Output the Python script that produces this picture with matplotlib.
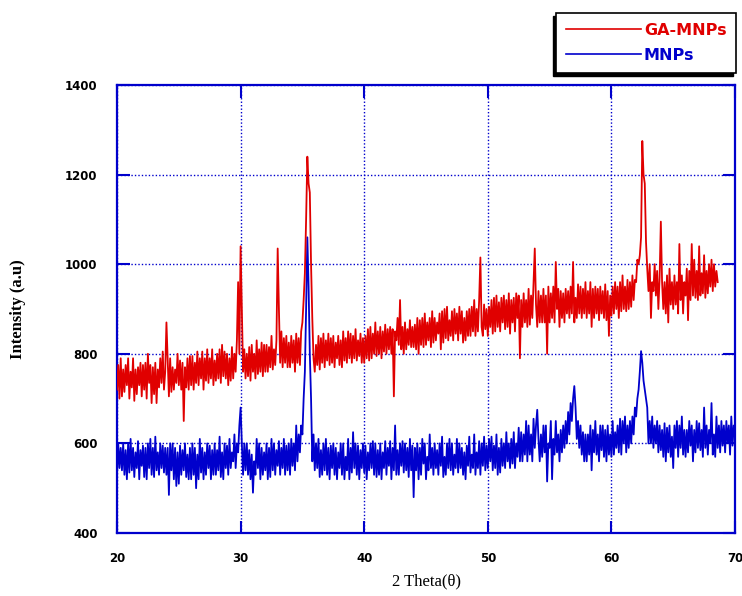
import numpy as np
import matplotlib
matplotlib.use("Agg")
import matplotlib.pyplot as plt
from matplotlib.patches import Rectangle

# scan grid (2 theta, deg) and intensities
step = 0.1
ga_start = 20.0
mnp_start = 20.0

ga_mnps = [
    720, 775, 700, 790, 705, 765, 715, 775, 730, 790, 700, 760, 725, 790, 695, 765, 710, 770, 730, 780,
    705, 775, 720, 780, 700, 800, 735, 775, 690, 770, 710, 780, 690, 765, 725, 790, 735, 805, 720, 760,
    870, 790, 705, 790, 715, 770, 720, 765, 735, 800, 730, 785, 720, 780, 650, 770, 725, 790, 720, 795,
    730, 795, 720, 780, 735, 805, 730, 790, 745, 805, 720, 790, 740, 810, 735, 790, 745, 810, 730, 785,
    740, 800, 745, 810, 735, 820, 750, 805, 745, 800, 730, 790, 740, 815, 745, 800, 760, 830, 960, 800,
    1040, 900, 760, 810, 745, 800, 750, 815, 740, 820, 760, 800, 745, 830, 755, 810, 760, 825, 750, 820,
    760, 820, 760, 815, 770, 840, 765, 810, 775, 830, 1035, 900, 780, 850, 770, 835, 780, 840, 770, 825,
    770, 840, 780, 830, 760, 845, 780, 835, 775, 850, 870, 920, 980, 1100, 1240, 1180, 1160, 1000, 880, 790,
    760, 820, 775, 840, 765, 835, 780, 845, 770, 830, 785, 845, 775, 835, 780, 840, 770, 825, 790, 840,
    775, 830, 770, 850, 785, 835, 780, 850, 790, 845, 780, 840, 790, 855, 785, 830, 795, 845, 780, 835,
    780, 840, 790, 855, 785, 860, 790, 845, 800, 870, 795, 850, 800, 860, 790, 850, 805, 865, 800, 855,
    810, 860, 800, 855, 705, 850, 830, 880, 820, 920, 810, 860, 800, 870, 810, 855, 820, 875, 815, 860,
    815, 865, 810, 880, 800, 875, 820, 880, 815, 890, 820, 870, 830, 880, 815, 895, 825, 880, 830, 870,
    845, 890, 810, 895, 825, 900, 835, 905, 830, 875, 840, 895, 830, 900, 845, 890, 830, 905, 845, 895,
    825, 880, 830, 895, 840, 900, 840, 905, 850, 920, 840, 900, 850, 920, 1015, 860, 840, 910, 855, 900,
    840, 905, 860, 920, 845, 925, 850, 930, 860, 915, 850, 925, 870, 930, 855, 920, 860, 935, 845, 920,
    870, 925, 850, 935, 880, 930, 790, 920, 860, 935, 870, 920, 860, 945, 865, 930, 880, 960, 1035, 910,
    860, 940, 870, 930, 870, 945, 870, 930, 800, 950, 870, 935, 880, 950, 870, 1005, 900, 945, 860, 940,
    880, 935, 870, 945, 890, 940, 880, 950, 890, 1005, 870, 925, 880, 955, 890, 950, 880, 945, 890, 960,
    880, 940, 890, 960, 860, 945, 880, 950, 890, 945, 875, 950, 890, 940, 880, 955, 875, 940, 840, 930,
    885, 950, 890, 960, 900, 950, 880, 960, 895, 975, 900, 950, 895, 965, 900, 960, 905, 975, 920, 965,
    960, 1010, 1000, 1020, 1060, 1275, 1200, 1180, 1050, 990, 940, 1000, 880, 960, 940, 1000, 930, 985, 900, 970,
    1095, 960, 900, 960, 890, 975, 870, 990, 910, 960, 900, 975, 910, 960, 890, 1045, 920, 975, 890, 960,
    930, 990, 875, 985, 920, 1045, 930, 1010, 925, 985, 920, 1040, 930, 980, 935, 1020, 925, 985, 935, 1000,
    950, 1010, 940, 1000, 950, 985, 960,
]

mnps = [
    530, 600, 545, 590, 540, 600, 530, 585, 520, 600, 535, 610, 540, 590, 525, 580, 545, 605, 520, 585,
    550, 595, 525, 590, 520, 600, 545, 610, 530, 590, 525, 615, 540, 580, 530, 600, 545, 595, 535, 590,
    530, 590, 485, 600, 540, 600, 520, 590, 505, 580, 510, 595, 530, 585, 540, 600, 525, 575, 520, 590,
    520, 600, 530, 590, 500, 575, 520, 610, 535, 590, 520, 580, 530, 600, 545, 595, 520, 585, 530, 600,
    530, 585, 540, 615, 525, 580, 520, 600, 545, 595, 530, 610, 545, 580, 560, 620, 545, 600, 580, 640,
    680, 600, 530, 600, 540, 600, 530, 585, 520, 575, 490, 560, 530, 610, 545, 600, 520, 590, 530, 580,
    540, 600, 520, 590, 525, 610, 540, 600, 530, 585, 550, 605, 530, 590, 545, 610, 530, 595, 540, 600,
    530, 610, 550, 600, 540, 640, 560, 620, 580, 640, 620, 700, 760, 900, 1060, 950, 800, 700, 560, 620,
    540, 600, 545, 610, 525, 585, 530, 600, 540, 610, 530, 590, 520, 595, 545, 600, 530, 590, 520, 580,
    545, 600, 530, 600, 520, 570, 540, 610, 520, 590, 535, 625, 545, 600, 530, 595, 520, 585, 545, 600,
    535, 595, 520, 580, 540, 600, 545, 605, 530, 600, 525, 585, 530, 600, 520, 580, 545, 605, 530, 590,
    550, 605, 520, 590, 540, 640, 530, 585, 530, 600, 550, 605, 535, 600, 540, 590, 525, 610, 540, 595,
    480, 590, 540, 600, 520, 590, 530, 610, 555, 600, 520, 570, 540, 620, 545, 590, 530, 600, 545, 585,
    530, 600, 550, 615, 525, 570, 530, 600, 545, 610, 540, 600, 530, 575, 545, 610, 535, 600, 545, 590,
    530, 580, 520, 595, 550, 615, 535, 575, 545, 620, 530, 580, 545, 605, 530, 600, 550, 615, 540, 595,
    545, 610, 560, 615, 540, 595, 545, 620, 530, 590, 535, 610, 550, 600, 545, 625, 560, 600, 545, 610,
    555, 625, 545, 600, 570, 635, 560, 625, 560, 620, 575, 650, 560, 640, 575, 620, 560, 655, 590, 640,
    675, 610, 560, 620, 570, 640, 580, 640, 515, 600, 590, 650, 520, 610, 575, 650, 580, 620, 560, 630,
    580, 640, 590, 650, 600, 670, 620, 690, 650, 700, 728, 680, 610, 650, 590, 640, 575, 625, 560, 620,
    560, 620, 575, 640, 540, 630, 580, 650, 575, 620, 560, 640, 585, 640, 570, 630, 560, 640, 575, 620,
    570, 650, 575, 625, 590, 640, 580, 655, 575, 650, 600, 660, 580, 640, 590, 650, 600, 660, 620, 680,
    660, 700, 720, 760, 806, 780, 740, 720, 700, 680, 600, 650, 600, 660, 590, 640, 600, 650, 580, 640,
    585, 630, 570, 645, 560, 635, 580, 640, 570, 615, 545, 640, 590, 650, 570, 640, 590, 660, 575, 630,
    570, 630, 580, 650, 595, 640, 560, 630, 580, 650, 590, 645, 585, 630, 570, 680, 590, 640, 575, 630,
    600, 690, 575, 620, 570, 660, 590, 640, 580, 650, 595, 640, 580, 650, 600, 640, 575, 660, 595, 640,
    620,
]

x_ticks = [20, 30, 40, 50, 60, 70]
y_ticks = [400, 600, 800, 1000, 1200, 1400]

RED = "#e00000"
BLUE = "#0000cc"

ga_x = ga_start + step * np.arange(len(ga_mnps))
mnp_x = mnp_start + step * np.arange(len(mnps))

fig = plt.figure(figsize=(7.42, 5.96), dpi=100)
ax = fig.add_axes([117 / 742, 63 / 596, 618 / 742, 448 / 596])

ax.plot(ga_x, ga_mnps, color=RED, lw=1.3, label="GA-MNPs", zorder=3)
ax.plot(mnp_x, mnps, color=BLUE, lw=1.3, label="MNPs", zorder=2)

ax.set_xlim(20, 70)
ax.set_ylim(400, 1400)
ax.set_xticks(x_ticks)
ax.set_yticks(y_ticks)
ax.grid(True, color=BLUE, ls=(0, (1, 1.5)), lw=1.0, zorder=1)
ax.set_axisbelow(True)
for sp in ax.spines.values():
    sp.set_color(BLUE)
    sp.set_linewidth(1.6)
ax.tick_params(direction="in", length=9, width=1.5, color=BLUE,
               top=True, right=True, labelsize=8.5)
ax.tick_params(axis="x", pad=14)
ax.tick_params(axis="y", pad=14)
for lab in ax.get_xticklabels() + ax.get_yticklabels():
    lab.set_fontfamily("DejaVu Sans")
    lab.set_fontweight("bold")

ax.set_xlabel("2 Theta(\u03b8)", family="Liberation Serif", fontsize=12,
              labelpad=6)
ax.set_ylabel("Intensity (a.u)", family="Liberation Serif", fontsize=12,
              fontweight="bold", labelpad=28)

leg = ax.legend(loc="upper right", bbox_to_anchor=(736 / 742, 1 - 13 / 596),
                bbox_transform=fig.transFigure, frameon=True, fancybox=False,
                framealpha=1, handlelength=4.7, handletextpad=0.2,
                borderpad=0.6, borderaxespad=0, labelspacing=0.65,
                labelcolor="linecolor",
                prop={"family": "DejaVu Sans", "weight": "bold", "size": 11.5})
leg.get_frame().set_edgecolor("black")
leg.get_frame().set_linewidth(1.2)
for h in leg.legend_handles:
    h.set_linewidth(1.2)

# drop shadow down-left of the legend box
fig.canvas.draw()
bb = leg.get_window_extent()
ax.add_patch(Rectangle((bb.x0 - 3, bb.y0 - 3), bb.width, bb.height,
                       transform=None, facecolor="black", edgecolor="black",
                       clip_on=False, zorder=4))

fig.savefig("out.png", dpi=100)
